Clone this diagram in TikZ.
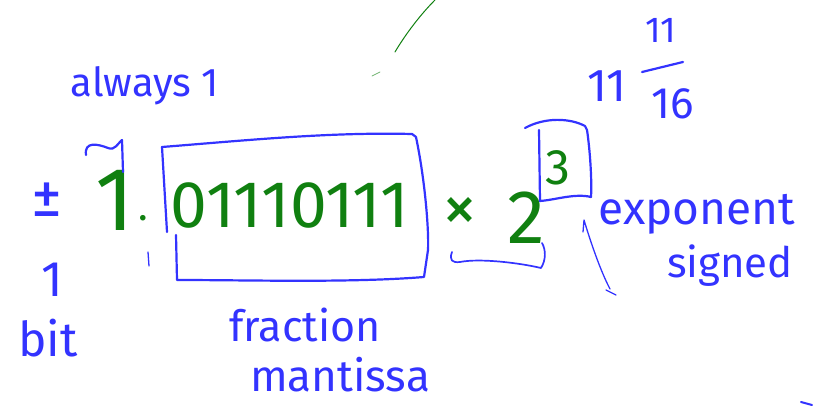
\documentclass[tikz,border=0pt]{standalone}
\usepackage{fontspec}
\setmainfont{Fira Sans}
\definecolor{pen}{RGB}{51,51,255}
\definecolor{ink}{RGB}{16,128,16}
\begin{document}
\begin{tikzpicture}[x=1pt,y=-1pt,
  stroke/.style={draw=pen,line width=2.2pt,line cap=round,line join=round},
  thin stroke/.style={draw=pen,line width=1.3pt,line cap=round,line join=round},
  bluetext/.style={text=pen,inner sep=0pt},
  greentext/.style={text=ink,inner sep=0pt}]
\useasboundingbox (0,0) rectangle (813,409);
% labels
\node[bluetext,font=\fontsize{40}{46}\selectfont] (always) at (145,86) {always 1};
\node[bluetext,font=\fontsize{62}{66}\selectfont] (pm) at (47,200) {±};
\node[bluetext,font=\fontsize{50}{56}\selectfont] (onebit) at (52,280) {1};
\node[bluetext,font=\fontsize{48}{54}\selectfont] (bit) at (48,338) {bit};
\node[bluetext,font=\fontsize{43}{48}\selectfont] (frac) at (305,325) {fraction};
\node[bluetext,font=\fontsize{44}{50}\selectfont] (mant) at (340,375) {mantissa};
\node[bluetext,font=\fontsize{46}{50}\selectfont] (expo) at (697,214) {exponent};
\node[bluetext,font=\fontsize{42}{48}\selectfont] (signed) at (730,266) {signed};
\node[bluetext,font=\fontsize{46}{50}\selectfont] (eleven) at (607,86) {11};
\node[bluetext,font=\fontsize{36}{40}\selectfont] (num) at (661,30) {11};
\node[bluetext,font=\fontsize{44}{48}\selectfont] (den) at (673,104) {16};
\draw[stroke] (642,72) -- (683,62);
% green formula
\node[greentext,font=\fontsize{90}{100}\selectfont] (one) at (115,200) {1};
\node[greentext,font=\fontsize{40}{44}\selectfont] (dot) at (143,218) {.};
\node[greentext,font=\fontsize{66}{70}\selectfont] (bits) at (290,205) {01110111};
\node[greentext,font=\fontsize{70}{76}\selectfont] (times) at (460,214) {×};
\node[greentext,font=\fontsize{76}{80}\selectfont] (two) at (526,218) {2};
\node[greentext,font=\fontsize{50}{54}\selectfont] (three) at (558,168) {3};
% tilde over the 1
\draw[stroke] (86,155) .. controls (84,141) and (98,144) .. (108,148) .. controls (115,151) and (118,143) .. (122,140) -- (123,172);
% fraction box
\draw[stroke] (162,147) .. controls (250,140) and (330,132) .. (412,134) -- (416,137) .. controls (425,180) and (429,230) .. (428,250) -- (424,277) .. controls (350,283) and (250,280) .. (177,280) -- (176,235);
\draw[stroke] (162,147) -- (167,232);
\draw[thin stroke] (148,252) -- (149,266);
% exponent box
\draw[stroke] (525,128) .. controls (545,117) and (570,118) .. (585,126) -- (587,130) .. controls (590,150) and (592,180) .. (591,197) .. controls (575,193) and (555,200) .. (540,201) -- (539,130);
% bracket under x 2
\draw[thin stroke,line width=1.7pt] (452,252) .. controls (449,260) and (452,263) .. (460,262) .. controls (480,258) and (520,263) .. (541,268) .. controls (546,260) and (546,250) .. (542,243);
% arrow stroke
\draw[thin stroke] (610,289) .. controls (600,270) and (590,240) .. (584,220) -- (583,232);
\draw[thin stroke] (606,290) -- (616,295);
% stray strokes
\draw[ink,line width=1pt,line cap=round] (395,52) .. controls (405,35) and (420,15) .. (435,0);
\draw[ink!60,line width=0.8pt,line cap=round] (372,76) -- (380,72);
\draw[stroke,line width=2pt] (801,402) -- (812,405);
\end{tikzpicture}
\end{document}
